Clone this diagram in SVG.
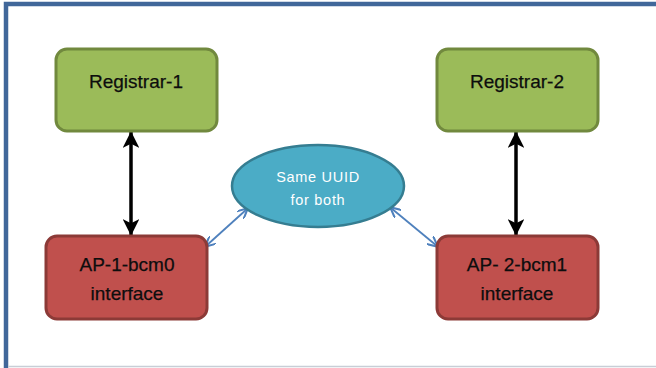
<svg xmlns="http://www.w3.org/2000/svg" width="656" height="368" viewBox="0 0 656 368">
<style>
.green{fill:#9BBB59;stroke:#71893E;stroke-width:3}
.red{fill:#C0504D;stroke:#8C3A37;stroke-width:3}
.lbl{font-family:"Liberation Sans",Arial,sans-serif;font-size:19px;fill:#0d0d0d;text-anchor:middle;stroke:#0d0d0d;stroke-width:0.25}
.wl{font-family:"Liberation Sans",Arial,sans-serif;font-size:14.5px;fill:#fff;text-anchor:middle;letter-spacing:0.7px}
.blk{stroke:#000;stroke-width:3.5;fill:none}
.blu{stroke:#4F81BD;stroke-width:1.8;fill:none}
</style>
<defs>
<marker id="ab" viewBox="0 0 10 10" refX="9.5" refY="5" markerWidth="4.8" markerHeight="4.8" orient="auto-start-reverse" markerUnits="strokeWidth">
<path d="M0,0 L10,5 L0,10 L2.5,5 Z" fill="#000"/>
</marker>
<marker id="au" viewBox="0 0 10 10" refX="9" refY="5" markerWidth="5.8" markerHeight="5.8" orient="auto-start-reverse" markerUnits="strokeWidth">
<path d="M0,0 L10,5 L0,10" fill="none" stroke="#4F81BD" stroke-width="2"/>
</marker>
</defs>
<rect x="0" y="0" width="656" height="368" fill="#fff"/>
<path d="M6,368 V4 H656" fill="none" stroke="#41679A" stroke-width="4.5"/>
<line x1="8" y1="366.5" x2="656" y2="366.5" stroke="#C8CED6" stroke-width="1.5"/>
<g id="connectors">
<line class="blk" x1="131" y1="132" x2="131" y2="235" marker-start="url(#ab)" marker-end="url(#ab)"/>
<line class="blk" x1="516" y1="132" x2="516" y2="235" marker-start="url(#ab)" marker-end="url(#ab)"/>
<line class="blu" x1="206" y1="246" x2="247" y2="209" marker-start="url(#au)" marker-end="url(#au)"/>
<line class="blu" x1="391" y1="208" x2="437" y2="246" marker-start="url(#au)" marker-end="url(#au)"/>
</g>
<g id="registrar1">
<rect class="green" x="56" y="49" width="161" height="82" rx="11"/>
<text class="lbl" x="136" y="88">Registrar-1</text>
</g>
<g id="registrar2">
<rect class="green" x="437" y="49" width="161" height="82" rx="11"/>
<text class="lbl" x="517" y="88">Registrar-2</text>
</g>
<g id="uuid">
<ellipse cx="318" cy="186" rx="86" ry="41" fill="#4BACC6" stroke="#357D91" stroke-width="2.5"/>
<text class="wl" x="318" y="182">Same UUID</text>
<text class="wl" x="318" y="205">for both</text>
</g>
<g id="ap1">
<rect class="red" x="46" y="236" width="161" height="83" rx="11"/>
<text class="lbl" x="127" y="271">AP-1-bcm0</text>
<text class="lbl" x="127" y="300">interface</text>
</g>
<g id="ap2">
<rect class="red" x="437" y="236" width="161" height="83" rx="11"/>
<text class="lbl" x="517" y="271">AP- 2-bcm1</text>
<text class="lbl" x="517" y="300">interface</text>
</g>
</svg>
